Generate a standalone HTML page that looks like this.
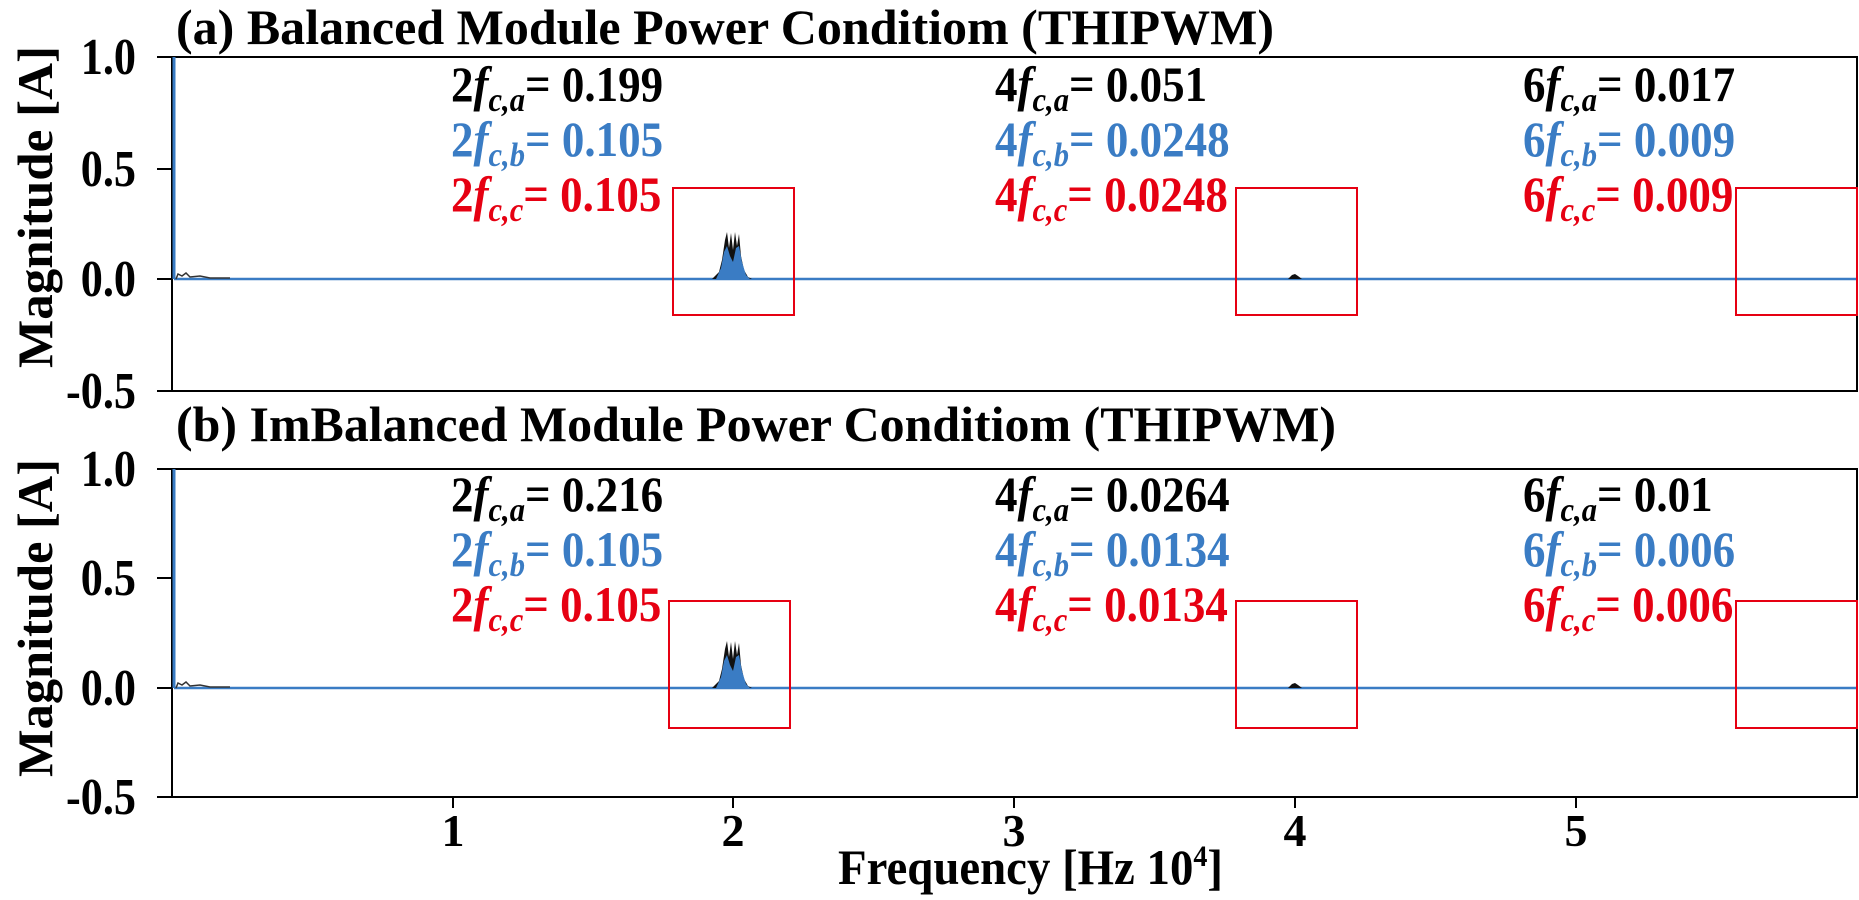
<!DOCTYPE html>
<html><head><meta charset="utf-8"><style>
html,body{margin:0;padding:0;background:#fff;}
svg{display:block;font-family:"Liberation Serif",serif;font-weight:bold;}
</style></head><body>
<svg width="1859" height="900" viewBox="0 0 1859 900" xmlns="http://www.w3.org/2000/svg">
<text x="176" y="44" font-size="50" textLength="1098" lengthAdjust="spacingAndGlyphs">(a) Balanced Module Power Conditiom (THIPWM)</text>
<text x="176" y="441" font-size="50" textLength="1160" lengthAdjust="spacingAndGlyphs">(b) ImBalanced Module Power Conditiom (THIPWM)</text>

<rect x="172" y="57" width="1685" height="334" fill="none" stroke="#000" stroke-width="2"/>
<rect x="172" y="469" width="1685" height="328" fill="none" stroke="#000" stroke-width="2"/>

<g stroke="#000" stroke-width="2">
<line x1="157" y1="57" x2="172" y2="57"/><line x1="157" y1="169" x2="172" y2="169"/>
<line x1="157" y1="279" x2="172" y2="279"/><line x1="157" y1="391" x2="172" y2="391"/>
<line x1="157" y1="469" x2="172" y2="469"/><line x1="157" y1="578" x2="172" y2="578"/>
<line x1="157" y1="688" x2="172" y2="688"/><line x1="157" y1="797" x2="172" y2="797"/>
<line x1="453" y1="797" x2="453" y2="808"/><line x1="733" y1="797" x2="733" y2="808"/>
<line x1="1014" y1="797" x2="1014" y2="808"/><line x1="1295" y1="797" x2="1295" y2="808"/>
<line x1="1576" y1="797" x2="1576" y2="808"/>
</g>
<g font-size="52" text-anchor="end">
<g transform="translate(136,74) scale(0.85,1)"><text>1.0</text></g>
<g transform="translate(136,186) scale(0.85,1)"><text>0.5</text></g>
<g transform="translate(136,296) scale(0.85,1)"><text>0.0</text></g>
<g transform="translate(136,408) scale(0.85,1)"><text>-0.5</text></g>
<g transform="translate(136,486) scale(0.85,1)"><text>1.0</text></g>
<g transform="translate(136,595) scale(0.85,1)"><text>0.5</text></g>
<g transform="translate(136,705) scale(0.85,1)"><text>0.0</text></g>
<g transform="translate(136,814) scale(0.85,1)"><text>-0.5</text></g>
</g>
<g font-size="46" text-anchor="middle">
<text x="453" y="846">1</text><text x="733" y="846">2</text><text x="1014" y="846">3</text>
<text x="1295" y="846">4</text><text x="1576" y="846">5</text>
</g>
<text x="838" y="884" font-size="50" textLength="385" lengthAdjust="spacingAndGlyphs">Frequency [Hz 10<tspan font-size="30" dy="-18">4</tspan><tspan dy="18">]</tspan></text>
<text transform="translate(52,207) rotate(-90)" font-size="50" text-anchor="middle" textLength="322" lengthAdjust="spacingAndGlyphs">Magnitude [A]</text>
<text transform="translate(52,618) rotate(-90)" font-size="50" text-anchor="middle" textLength="318" lengthAdjust="spacingAndGlyphs">Magnitude [A]</text>

<g>
<line x1="174" y1="279" x2="1857" y2="279" stroke="#3a7cc4" stroke-width="2.5"/>
<line x1="174" y1="57" x2="174" y2="279" stroke="#3a7cc4" stroke-width="3"/>
<path d="M176,279 L178,274 L182,276 L186,273 L190,277 L200,276 L210,278 L230,278" stroke="#333" fill="none" stroke-width="1.5"/>
<path d="M712,279 L719,272 L722,260 L725,240 L727,232 L729,248 L731,233 L733,250 L735,232 L737,246 L739,234 L741,256 L744,270 L748,277 L752,279 Z" fill="#111"/>
<path d="M716,279 L721,268 L724,252 L727,246 L730,256 L733,262 L736,248 L739,246 L742,262 L746,275 L750,279 Z" fill="#3a7cc4"/>
<path d="M1288,279 L1292,275 L1295,274 L1298,276 L1302,279 Z" fill="#111"/>
<line x1="174" y1="688" x2="1857" y2="688" stroke="#3a7cc4" stroke-width="2.5"/>
<line x1="174" y1="469" x2="174" y2="688" stroke="#3a7cc4" stroke-width="3"/>
<path d="M176,688 L178,683 L182,685 L186,682 L190,686 L200,685 L210,687 L230,687" stroke="#333" fill="none" stroke-width="1.5"/>
<path d="M712,688 L719,681 L722,669 L725,649 L727,641 L729,657 L731,642 L733,659 L735,641 L737,655 L739,643 L741,665 L744,679 L748,686 L752,688 Z" fill="#111"/>
<path d="M716,688 L721,677 L724,661 L727,655 L730,665 L733,671 L736,657 L739,655 L742,671 L746,684 L750,688 Z" fill="#3a7cc4"/>
<path d="M1288,688 L1292,684 L1295,683 L1298,685 L1302,688 Z" fill="#111"/>
</g>

<g fill="none" stroke="#e60012" stroke-width="2">
<rect x="673" y="188" width="121" height="127"/>
<rect x="1236" y="188" width="121" height="127"/>
<rect x="1736" y="188" width="121" height="127"/>
<rect x="669" y="601" width="121" height="127"/>
<rect x="1236" y="601" width="121" height="127"/>
<rect x="1736" y="601" width="121" height="127"/>
</g>

<g font-size="50">
<g transform="translate(451,101) scale(0.9,1)"><text fill="#000">2<tspan font-style="italic">f</tspan><tspan font-style="italic" font-size="34" dy="10">c,a</tspan><tspan dy="-10">= 0.199</tspan></text></g>
<g transform="translate(451,156) scale(0.9,1)"><text fill="#3a7cc4">2<tspan font-style="italic">f</tspan><tspan font-style="italic" font-size="34" dy="10">c,b</tspan><tspan dy="-10">= 0.105</tspan></text></g>
<g transform="translate(451,211) scale(0.9,1)"><text fill="#e60012">2<tspan font-style="italic">f</tspan><tspan font-style="italic" font-size="34" dy="10">c,c</tspan><tspan dy="-10">= 0.105</tspan></text></g>
<g transform="translate(995,101) scale(0.9,1)"><text fill="#000">4<tspan font-style="italic">f</tspan><tspan font-style="italic" font-size="34" dy="10">c,a</tspan><tspan dy="-10">= 0.051</tspan></text></g>
<g transform="translate(995,156) scale(0.9,1)"><text fill="#3a7cc4">4<tspan font-style="italic">f</tspan><tspan font-style="italic" font-size="34" dy="10">c,b</tspan><tspan dy="-10">= 0.0248</tspan></text></g>
<g transform="translate(995,211) scale(0.9,1)"><text fill="#e60012">4<tspan font-style="italic">f</tspan><tspan font-style="italic" font-size="34" dy="10">c,c</tspan><tspan dy="-10">= 0.0248</tspan></text></g>
<g transform="translate(1523,101) scale(0.9,1)"><text fill="#000">6<tspan font-style="italic">f</tspan><tspan font-style="italic" font-size="34" dy="10">c,a</tspan><tspan dy="-10">= 0.017</tspan></text></g>
<g transform="translate(1523,156) scale(0.9,1)"><text fill="#3a7cc4">6<tspan font-style="italic">f</tspan><tspan font-style="italic" font-size="34" dy="10">c,b</tspan><tspan dy="-10">= 0.009</tspan></text></g>
<g transform="translate(1523,211) scale(0.9,1)"><text fill="#e60012">6<tspan font-style="italic">f</tspan><tspan font-style="italic" font-size="34" dy="10">c,c</tspan><tspan dy="-10">= 0.009</tspan></text></g>

<g transform="translate(451,511) scale(0.9,1)"><text fill="#000">2<tspan font-style="italic">f</tspan><tspan font-style="italic" font-size="34" dy="10">c,a</tspan><tspan dy="-10">= 0.216</tspan></text></g>
<g transform="translate(451,566) scale(0.9,1)"><text fill="#3a7cc4">2<tspan font-style="italic">f</tspan><tspan font-style="italic" font-size="34" dy="10">c,b</tspan><tspan dy="-10">= 0.105</tspan></text></g>
<g transform="translate(451,621) scale(0.9,1)"><text fill="#e60012">2<tspan font-style="italic">f</tspan><tspan font-style="italic" font-size="34" dy="10">c,c</tspan><tspan dy="-10">= 0.105</tspan></text></g>
<g transform="translate(995,511) scale(0.9,1)"><text fill="#000">4<tspan font-style="italic">f</tspan><tspan font-style="italic" font-size="34" dy="10">c,a</tspan><tspan dy="-10">= 0.0264</tspan></text></g>
<g transform="translate(995,566) scale(0.9,1)"><text fill="#3a7cc4">4<tspan font-style="italic">f</tspan><tspan font-style="italic" font-size="34" dy="10">c,b</tspan><tspan dy="-10">= 0.0134</tspan></text></g>
<g transform="translate(995,621) scale(0.9,1)"><text fill="#e60012">4<tspan font-style="italic">f</tspan><tspan font-style="italic" font-size="34" dy="10">c,c</tspan><tspan dy="-10">= 0.0134</tspan></text></g>
<g transform="translate(1523,511) scale(0.9,1)"><text fill="#000">6<tspan font-style="italic">f</tspan><tspan font-style="italic" font-size="34" dy="10">c,a</tspan><tspan dy="-10">= 0.01</tspan></text></g>
<g transform="translate(1523,566) scale(0.9,1)"><text fill="#3a7cc4">6<tspan font-style="italic">f</tspan><tspan font-style="italic" font-size="34" dy="10">c,b</tspan><tspan dy="-10">= 0.006</tspan></text></g>
<g transform="translate(1523,621) scale(0.9,1)"><text fill="#e60012">6<tspan font-style="italic">f</tspan><tspan font-style="italic" font-size="34" dy="10">c,c</tspan><tspan dy="-10">= 0.006</tspan></text></g>
</g>
</svg>
</body></html>
